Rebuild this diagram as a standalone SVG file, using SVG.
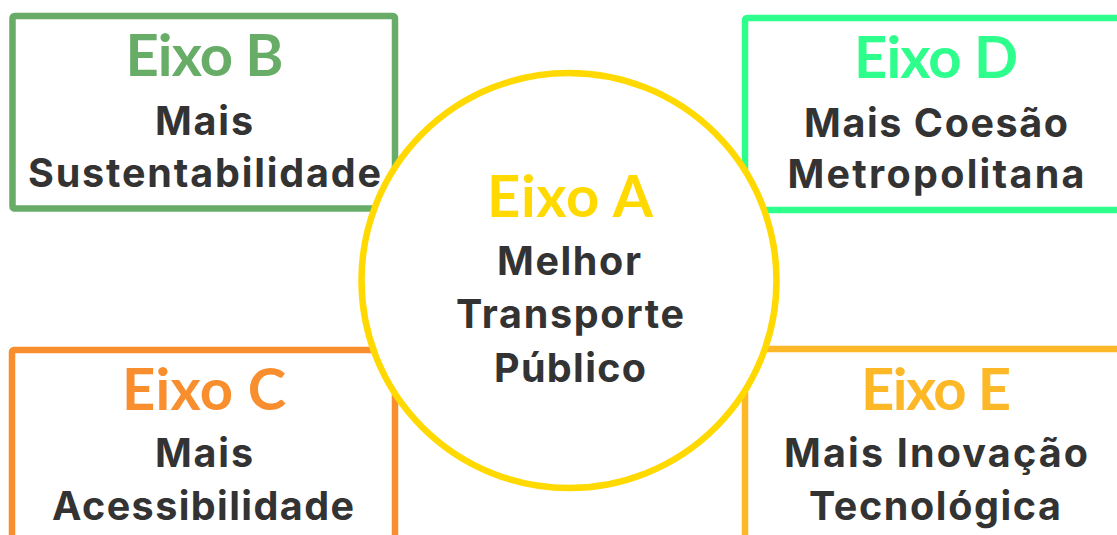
<svg xmlns="http://www.w3.org/2000/svg" width="1117" height="535" viewBox="0 0 1117 535">
<style>
.box{fill:#fff;stroke-width:6.5;}
.h{font-family:Lato,"Open Sans","Liberation Sans",sans-serif;font-weight:700;font-size:58px;text-anchor:middle;}
.t{font-family:Inter,"Open Sans","Liberation Sans",sans-serif;font-weight:700;font-size:39.5px;text-anchor:middle;fill:#333333;}
</style>
<rect width="1117" height="535" fill="#ffffff"/>
<g id="nodeB">
<rect class="box" x="12.5" y="16" width="382.5" height="192.5" rx="2" stroke="#67AD67"/>
<text class="h" x="204.5" y="76" fill="#67AD67" textLength="158" lengthAdjust="spacing">Eixo B</text>
<text class="t" x="204" y="135" textLength="98" lengthAdjust="spacing">Mais</text>
<text class="t" x="204.5" y="187" textLength="353" lengthAdjust="spacing">Sustentabilidade</text>
</g>
<g id="nodeD">
<rect class="box" x="745" y="18" width="400" height="192" rx="2" stroke="#2EFF8C"/>
<text class="h" x="936" y="78" fill="#2EFF8C" textLength="164" lengthAdjust="spacing">Eixo D</text>
<text class="t" x="936" y="137" textLength="264" lengthAdjust="spacing">Mais Coesão</text>
<text class="t" x="936" y="188" textLength="297" lengthAdjust="spacing">Metropolitana</text>
</g>
<g id="nodeC">
<rect class="box" x="12" y="350" width="383" height="220" rx="2" stroke="#F98E2E"/>
<text class="h" x="204" y="410" fill="#F98E2E" textLength="164" lengthAdjust="spacing">Eixo C</text>
<text class="t" x="204" y="467" textLength="98" lengthAdjust="spacing">Mais</text>
<text class="t" x="203" y="520" textLength="302" lengthAdjust="spacing">Acessibilidade</text>
</g>
<g id="nodeE">
<rect class="box" x="745" y="349" width="400" height="220" rx="2" stroke="#FDB827"/>
<text class="h" x="936" y="410" fill="#FDB827" textLength="150" lengthAdjust="spacing">Eixo E</text>
<text class="t" x="936" y="467" textLength="304" lengthAdjust="spacing">Mais Inovação</text>
<text class="t" x="935" y="520" textLength="252" lengthAdjust="spacing">Tecnológica</text>
</g>
<g id="nodeA">
<circle cx="569" cy="280.5" r="207.5" fill="#ffffff" stroke="#FFD900" stroke-width="6.5"/>
<text class="h" x="570" y="217" fill="#FFD900" textLength="166" lengthAdjust="spacing">Eixo A</text>
<text class="t" x="569" y="275" textLength="144" lengthAdjust="spacing">Melhor</text>
<text class="t" x="570" y="328" textLength="228" lengthAdjust="spacing">Transporte</text>
<text class="t" x="570" y="382" textLength="152" lengthAdjust="spacing">Público</text>
</g>
<g id="connectors"></g>
</svg>
